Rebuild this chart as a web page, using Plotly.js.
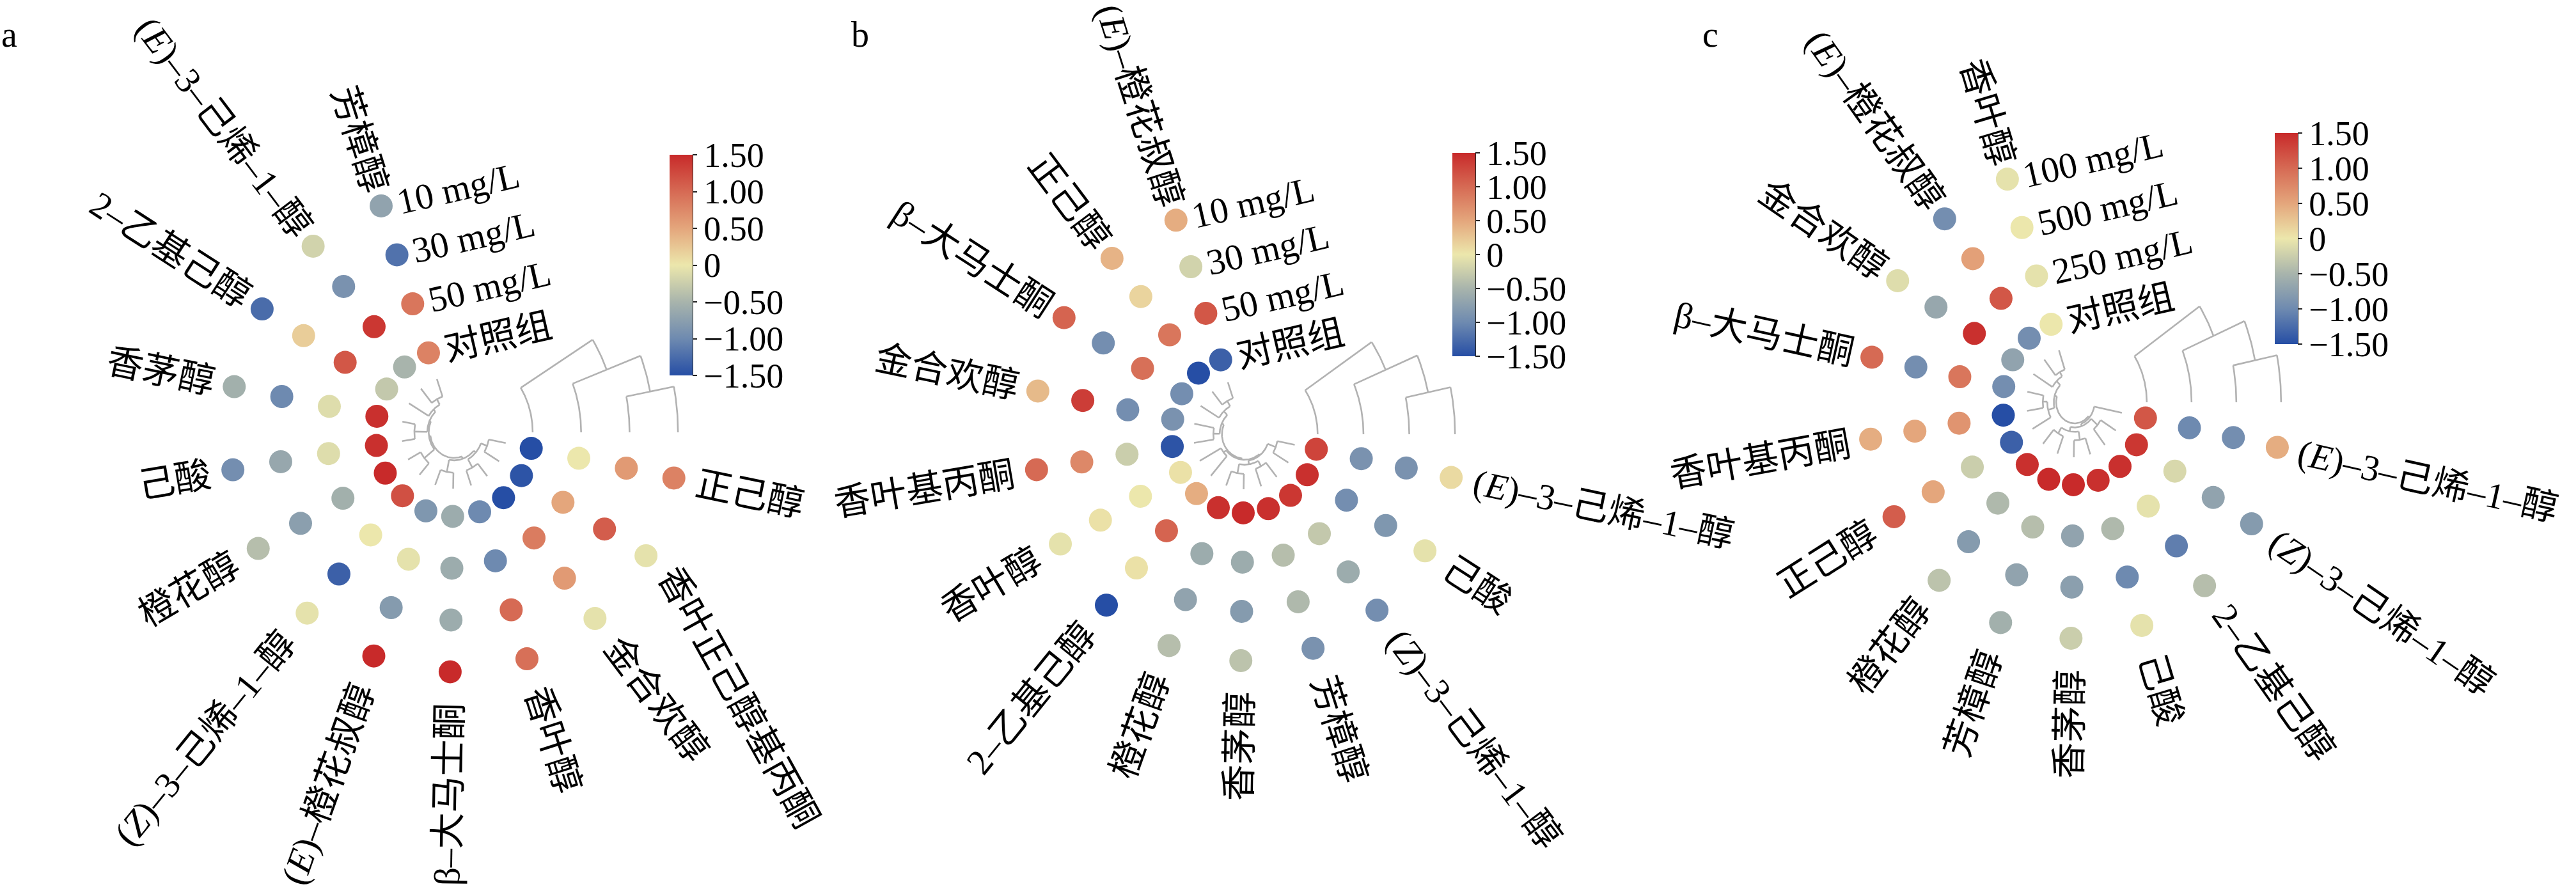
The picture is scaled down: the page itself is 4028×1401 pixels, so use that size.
<!DOCTYPE html>
<html><head><meta charset="utf-8">
<script src="https://cdn.plot.ly/plotly-3.0.1.min.js"></script>
<style>html,body{margin:0;padding:0;background:#fff}</style>
</head><body><div id="chart" style="width:4028px;height:1401px"></div>
<script>
// ================= DATA =================
// ring names, listed from the outermost ring to the innermost ring
const ringsAB = ['10 mg/L', '30 mg/L', '50 mg/L', '对照组'];
const ringsC  = ['100 mg/L', '500 mg/L', '250 mg/L', '对照组'];

// compounds in spoke order (counter-clockwise from the top)
const compoundsA = ['芳樟醇','(<i>E</i>)–3–己烯–1–醇','2–乙基己醇','香茅醇','己酸','橙花醇','(<i>Z</i>)–3–己烯–1–醇','(<i>E</i>)–橙花叔醇','β–大马士酮','香叶醇','金合欢醇','香叶正己醇基丙酮','正己醇'];
const compoundsB = ['(<i>E</i>)–橙花叔醇','正己醇','β–大马士酮','金合欢醇','香叶基丙酮','香叶醇','2–乙基己醇','橙花醇','香茅醇','芳樟醇','(<i>Z</i>)–3–己烯–1–醇','己酸','(<i>E</i>)–3–己烯–1–醇'];
const compoundsC = ['香叶醇','(<i>E</i>)–橙花叔醇','金合欢醇','β–大马士酮','香叶基丙酮','正己醇','橙花醇','芳樟醇','香茅醇','己酸','2–乙基己醇','(<i>Z</i>)–3–己烯–1–醇','(<i>E</i>)–3–己烯–1–醇'];

// z-scores per compound: [outer ring, ring 2, ring 3, inner ring (对照组)]
const valuesA = [
  [-0.7,-1.2, 0.9, 0.8],
  [-0.2,-0.9, 1.4,-0.5],
  [-1.25,0.2, 1.15,-0.3],
  [-0.55,-1.0,-0.1, 1.45],
  [-0.95,-0.65,-0.1, 1.45],
  [-0.4,-0.75,-0.55, 1.5],
  [-0.05,-1.35,0.0, 1.2],
  [1.5,-0.8,-0.05,-0.85],
  [1.5,-0.6,-0.6,-0.6],
  [0.95, 1.0,-1.0,-1.0],
  [-0.05,0.6, 0.85,-1.5],
  [-0.05,1.1, 0.5,-1.45],
  [0.8, 0.6, 0.0,-1.5]
];
const valuesB = [
  [0.45,-0.2, 1.15,-1.35],
  [0.4, 0.15, 0.9,-1.5],
  [1.05,-0.95,0.95,-0.95],
  [0.35, 1.35,-0.95,-0.9],
  [1.0, 0.75,-0.25,-1.45],
  [-0.05,0.05,0.0, 0.05],
  [-1.5, 0.05,1.05, 0.45],
  [-0.4,-0.7,-0.6, 1.45],
  [-0.35,-0.8,-0.6, 1.5],
  [-0.9,-0.45,-0.4, 1.45],
  [-0.95,-0.6,-0.3, 1.4],
  [-0.05,-0.85,-0.95,1.45],
  [0.1,-0.9,-0.9, 1.3]
];
const valuesC = [
  [-0.05,0.0,-0.05, 0.0],
  [-0.95,0.55,1.15,-0.95],
  [-0.1,-0.65,1.45,-0.7],
  [1.0,-0.95, 0.9,-0.95],
  [0.45, 0.5, 0.65,-1.5],
  [1.1, 0.5,-0.25,-1.35],
  [-0.35,-0.8,-0.45,1.45],
  [-0.55,-0.7,-0.4, 1.5],
  [-0.25,-0.75,-0.7,1.5],
  [-0.05,-1.0,-0.45,1.45],
  [-0.4,-1.1,-0.05, 1.45],
  [-0.8,-0.7,-0.15, 1.4],
  [0.45,-0.95,-1.0, 1.15]
];

// compound clustering: [child a, child b, relative height] (leaves 0..12, new nodes from 13)
const mergesA = [[0,1,0.6],[13,2,0.8],[3,4,0.45],[14,15,0.9],[5,6,0.5],[16,17,0.95],[7,8,0.52],[9,10,0.52],[11,12,0.6],[20,21,0.83],[19,22,0.92],[18,23,1.0]];
const mergesB = [[0,1,0.55],[13,2,0.75],[3,4,0.7],[14,15,0.92],[5,6,0.85],[7,8,0.5],[9,10,0.6],[18,19,0.8],[11,12,0.62],[20,21,0.92],[17,22,0.96],[16,23,1.0]];
const mergesC = [[0,1,0.6],[13,2,0.75],[3,4,0.55],[15,5,0.7],[14,16,0.92],[6,7,0.55],[8,9,0.5],[18,19,0.75],[10,11,0.6],[20,21,0.88],[22,12,0.95],[17,23,1.0]];

// sample clustering: rings 0=inner(对照组) .. 3=outer; [a, b, height]
const sampleMergesA = [[2,3,11],[1,4,21],[0,5,32]];
const sampleMergesB = [[2,3,12],[1,4,23],[0,5,34]];
const sampleMergesC = [[2,3,11.5],[1,4,22.7],[0,5,33.9]];

// colour bar
const cbTickVals = [1.5, 1, 0.5, 0, -0.5, -1, -1.5];
const cbTickText = ['1.50','1.00','0.50','0','−0.50','−1.00','−1.50'];
const panelLetters = ['a','b','c'];

// ================= STYLE / LAYOUT =================
const FONT = '"Liberation Serif", "Noto Sans CJK SC", serif';
const LABEL_SIZE = 57;
const LABEL_GAP = 36;      // radial gap between outer ring and compound labels
const LABEL_TILT = 13;     // labels sit a little closer at the top, farther at the bottom
const colorscale = [[0,'rgb(38,78,165)'],[0.1667,'rgb(110,138,176)'],[0.3333,'rgb(168,180,172)'],[0.5,'rgb(236,231,172)'],[0.6667,'rgb(228,166,124)'],[0.8333,'rgb(214,106,84)'],[1,'rgb(200,42,42)']];
const START = 109, STEP = 20;

const panels = [
  {compounds:compoundsA, values:valuesA, rings:ringsAB, merges:mergesA, smerges:sampleMergesA,
   g:{cx:710, cy:676, r0:131.5, dr:81, sx:0.935, leafR:88, rootR:40},
   cb:{x:1047, top:242, len:345}, letterX:0, angleOverride:{11:61}},
  {compounds:compoundsB, values:valuesB, rings:ringsAB, merges:mergesB, smerges:sampleMergesB,
   g:{cx:1946, cy:679, r0:123, dr:77, sx:0.93, leafR:86, rootR:38},
   cb:{x:2271, top:239, len:318}, letterX:1329, angleOverride:{}},
  {compounds:compoundsC, values:valuesC, rings:ringsC, merges:mergesC, smerges:sampleMergesC,
   g:{cx:3244, cy:629, r0:129, dr:80, sx:0.875, leafR:86, rootR:33},
   cb:{x:3557, top:208, len:330}, letterX:2660, angleOverride:{}}
];

const W = 4028, H = 1401;
const canvas = document.createElement('canvas');
const ctx = canvas.getContext('2d');
function textWidth(t, size){ ctx.font = size+'px '+FONT; return ctx.measureText(t.replace(/<[^>]+>/g,'')).width; }
const rad = d => d*Math.PI/180;

const traces = [], annotations = [], shapes = [];

panels.forEach((p, pi) => {
  const g = p.g;
  const pt = (deg, r) => [g.cx + g.sx*r*Math.cos(rad(deg)), g.cy - r*Math.sin(rad(deg))];
  const ringR = k => g.r0 + k*g.dr; // k: 0 inner .. 3 outer
  const n = p.compounds.length;
  const ang = i => START + STEP*i;

  // --- inner dendrogram
  const dx = [], dy = [];
  const push = q => { if(q){dx.push(q[0]); dy.push(q[1]);} else {dx.push(null); dy.push(null);} };
  const nA = [], nR = [];
  for(let i=0;i<n;i++){ nA.push(ang(i)); nR.push(g.leafR); }
  p.merges.forEach(([a,b,h]) => {
    const r = g.leafR - h*(g.leafR - g.rootR);
    [a,b].forEach(c => { push(pt(nA[c], nR[c])); push(pt(nA[c], r)); push(null); });
    const a0 = Math.min(nA[a], nA[b]), a1 = Math.max(nA[a], nA[b]);
    for(let t=a0; t<=a1+1e-9; t+=Math.max(0.5,(a1-a0)/60)) push(pt(t, r));
    push(pt(a1, r)); push(null);
    nA.push((nA[a]+nA[b])/2); nR.push(r);
  });
  // --- sample dendrogram (in the gap)
  const sR = [0,1,2,3].map(ringR), sA = [0,0,0,0];
  p.smerges.forEach(([a,b,h]) => {
    [a,b].forEach(c => {
      for(let t=sA[c]; t<=h+1e-9; t+=0.5) push(pt(t, sR[c]));
      push(pt(h, sR[c])); push(null);
    });
    push(pt(h, sR[a])); push(pt(h, sR[b])); push(null);
    sR.push((sR[a]+sR[b])/2); sA.push(h);
  });
  traces.push({type:'scatter', mode:'lines', x:dx, y:dy, hoverinfo:'skip',
    line:{color:'rgb(178,178,178)', width:2.6}, connectgaps:false, showlegend:false});

  // --- heat dots
  const mx = [], my = [], mc = [];
  p.values.forEach((row, i) => {
    row.forEach((v, j) => {
      const q = pt(ang(i), ringR(3-j));
      mx.push(q[0]); my.push(q[1]); mc.push(v);
    });
  });
  traces.push({type:'scatter', mode:'markers', x:mx, y:my, showlegend:false, hoverinfo:'skip',
    marker:{size:36, color:mc, cmin:-1.5, cmax:1.5, colorscale:colorscale, line:{width:0},
      showscale:true,
      colorbar:{x:p.cb.x/W, xanchor:'left', y:1-p.cb.top/H, yanchor:'top',
        len:p.cb.len, lenmode:'pixels', thickness:36, thicknessmode:'pixels',
        xpad:0, ypad:0, outlinewidth:0, ticks:'outside', ticklen:7, tickwidth:2, tickcolor:'#222',
        tickvals:cbTickVals, ticktext:cbTickText,
        tickfont:{family:FONT, size:54, color:'#000'}}}});
  shapes.push({type:'line', xref:'x', yref:'y', x0:p.cb.x+36, x1:p.cb.x+36, y0:p.cb.top, y1:p.cb.top+p.cb.len,
    line:{color:'#222', width:2}});

  // --- compound labels
  p.compounds.forEach((lab, i) => {
    const th = ang(i);
    const rLab = ringR(3) + LABEL_GAP - LABEL_TILT*Math.sin(rad(th));
    const p0 = pt(th, rLab);
    let ux = g.sx*Math.cos(rad(th)), uy = -Math.sin(rad(th));
    if (p.angleOverride[i] !== undefined) {
      const a = rad(p.angleOverride[i]); ux = Math.cos(a); uy = Math.sin(a);
    }
    const L = Math.hypot(ux, uy); ux/=L; uy/=L;
    const w = textWidth(lab, LABEL_SIZE);
    const cxl = p0[0] + ux*w/2, cyl = p0[1] + uy*w/2;
    const left = th <= 270;
    const tang = left ? Math.atan2(-uy, -ux)*180/Math.PI : Math.atan2(uy, ux)*180/Math.PI;
    annotations.push({x:cxl, y:cyl, xref:'x', yref:'y', text:lab, showarrow:false,
      xanchor:'center', yanchor:'middle', textangle:tang,
      font:{family:FONT, size:LABEL_SIZE, color:'#000'}});
  });

  // --- ring labels next to the first spoke
  const ta = -13;
  p.rings.forEach((lab, j) => {
    const q = pt(ang(0), ringR(3-j));
    const w = textWidth(lab, LABEL_SIZE);
    const d = 26 + w/2;
    annotations.push({x:q[0] + d*Math.cos(rad(ta)), y:q[1] + d*Math.sin(rad(ta)), xref:'x', yref:'y',
      text:lab, showarrow:false, xanchor:'center', yanchor:'middle', textangle:ta,
      font:{family:FONT, size:LABEL_SIZE, color:'#000'}});
  });

  // --- panel letter
  annotations.push({x:p.letterX, y:54, xref:'x', yref:'y', text:panelLetters[pi], showarrow:false,
    xanchor:'left', yanchor:'middle', font:{family:FONT, size:56, color:'#000'}});
});

const layout = {
  width:W, height:H, margin:{l:0,r:0,t:0,b:0,pad:0},
  paper_bgcolor:'#fff', plot_bgcolor:'#fff', showlegend:false,
  xaxis:{range:[0,W], visible:false, fixedrange:true},
  yaxis:{range:[H,0], visible:false, fixedrange:true},
  annotations:annotations, shapes:shapes
};
Plotly.newPlot('chart', traces, layout, {staticPlot:true, displayModeBar:false});
</script>
</body></html>
